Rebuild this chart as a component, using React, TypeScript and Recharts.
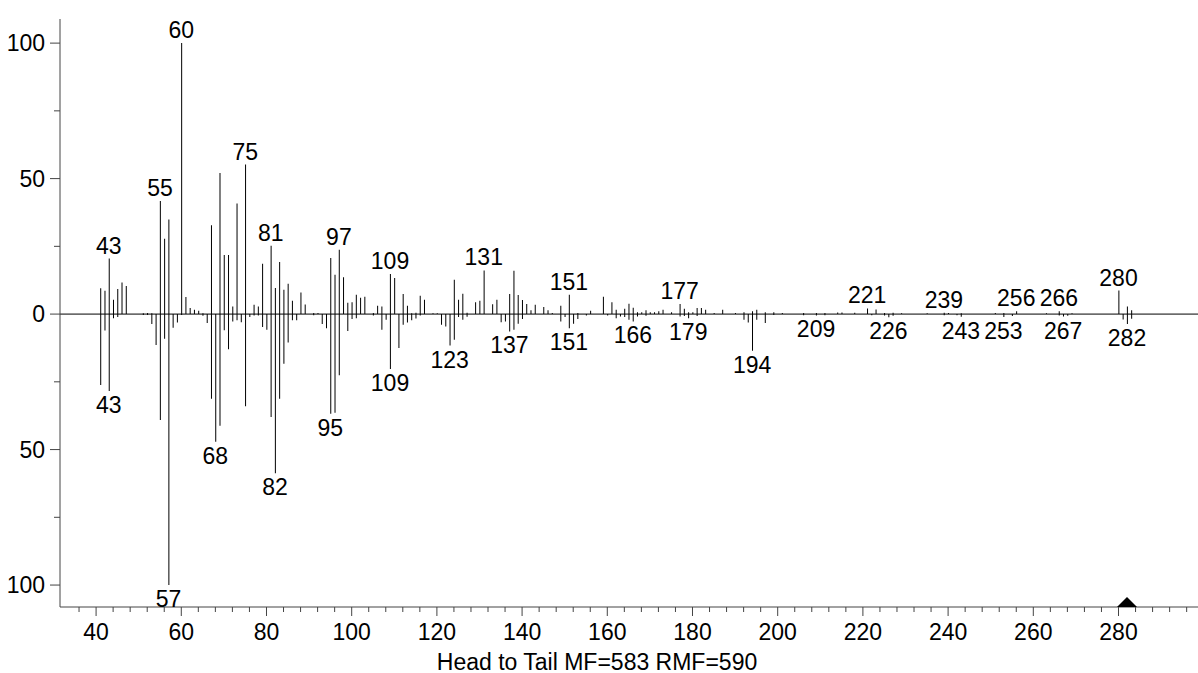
import { ComposedChart, Bar, XAxis, YAxis, ReferenceLine, ReferenceDot } from 'recharts'

// m/z, relative intensity (upper = unknown spectrum)
const headPeaks: [number, number][] = [
  [41, 9.5], [42, 8.6], [43, 20.5], [44, 5.3], [45, 9.3], [46, 11.7], [47, 10.4], [51, 0.3], [52, 0.4], [53, 0.3],
  [55, 41.7], [56, 27.8], [57, 34.9], [60, 100], [61, 6.3], [62, 2.2], [63, 1.6], [64, 1.2], [65, 0.3],
  [67, 32.8], [69, 52.1], [70, 21.8], [71, 21.8], [72, 2.8], [73, 40.8], [75, 55.2], [77, 3.4], [78, 2.8],
  [79, 18.6], [81, 25.2], [82, 9.6], [83, 19.2], [84, 9.0], [85, 11.2], [86, 4.9], [88, 8.0], [89, 3.5],
  [91, 0.4], [92, 0.4], [95, 20.7], [96, 14.5], [97, 23.7], [98, 13.6], [99, 4.2], [100, 4.4], [101, 7.1],
  [102, 6.0], [103, 6.4], [105, 0.4], [106, 3.1], [107, 2.8], [109, 14.8], [110, 13.3], [112, 7.4], [113, 3.1],
  [114, 0.3], [115, 0.5], [116, 6.8], [117, 5.3], [119, 0.3], [120, 0.3], [124, 12.7], [125, 5.3], [126, 7.5],
  [127, 0.5], [129, 4.4], [130, 4.9], [131, 16.1], [133, 3.6], [134, 5.3], [137, 7.4], [138, 16.0], [139, 7.0],
  [140, 5.2], [141, 3.7], [142, 1.4], [143, 3.4], [145, 2.6], [146, 1.4], [147, 0.4], [149, 3.1], [151, 7.1],
  [153, 0.4], [156, 1.2], [159, 6.4], [161, 4.4], [162, 1.6], [164, 2.0], [165, 3.8], [166, 2.3], [167, 0.7],
  [168, 0.7], [169, 1.4], [170, 0.7], [171, 0.7], [172, 1.0], [173, 1.6], [175, 0.7], [177, 3.7], [178, 2.0],
  [179, 0.7], [180, 0.7], [181, 2.2], [182, 2.2], [183, 1.6], [185, 0.4], [187, 1.6], [190, 0.4], [192, 0.7],
  [194, 1.0], [195, 1.6], [197, 0.7], [199, 0.7], [201, 0.4], [206, 0.4], [209, 0.4], [211, 0.4], [214, 0.6],
  [215, 0.6], [218, 0.5], [221, 2.1], [223, 1.7], [225, 0.4], [227, 0.5], [229, 0.3], [235, 0.3], [239, 0.5],
  [240, 0.4], [243, 0.3], [251, 0.4], [253, 0.4], [256, 1.0], [263, 0.3], [266, 1.0], [269, 0.3], [280, 8.7],
  [282, 2.8], [283, 1.4],
]

// m/z, relative intensity (lower = library spectrum)
const tailPeaks: [number, number][] = [
  [41, 26.2], [42, 6.1], [43, 28.4], [44, 1.5], [45, 1.1], [51, 0.3], [52, 0.3], [53, 3.7], [54, 11.4],
  [55, 39.1], [56, 9.1], [57, 100], [58, 5.0], [59, 3.1], [60, 0.3], [65, 0.6], [66, 3.3], [67, 31.2],
  [68, 47.1], [69, 41.2], [70, 6.0], [71, 13.0], [72, 2.7], [73, 2.3], [74, 3.0], [75, 34.0], [76, 1.1],
  [77, 0.5], [78, 0.5], [79, 4.8], [80, 5.8], [81, 38.0], [82, 58.7], [83, 31.2], [84, 18.3], [85, 10.5],
  [86, 2.3], [87, 2.3], [91, 0.4], [93, 3.7], [94, 5.2], [95, 36.8], [96, 36.4], [97, 22.6], [99, 6.2],
  [100, 1.8], [101, 1.5], [105, 0.5], [107, 5.8], [108, 2.1], [109, 20.3], [111, 12.5], [112, 3.9],
  [113, 3.1], [114, 2.3], [115, 1.6], [116, 0.5], [121, 3.9], [122, 4.6], [123, 11.6], [124, 9.5],
  [125, 1.1], [126, 2.1], [127, 1.0], [135, 3.0], [136, 2.7], [137, 6.4], [138, 5.8], [139, 3.6],
  [140, 1.8], [149, 2.7], [150, 1.1], [151, 5.2], [152, 3.6], [153, 1.8], [155, 0.5], [160, 0.5],
  [162, 1.5], [163, 0.9], [164, 1.1], [165, 2.1], [166, 2.7], [167, 0.9], [169, 0.6], [177, 0.9],
  [178, 0.7], [179, 1.5], [181, 0.7], [192, 2.1], [193, 3.1], [194, 13.5], [195, 2.1], [197, 3.3],
  [199, 0.3], [206, 0.4], [209, 0.5], [211, 0.4], [222, 0.4], [225, 0.5], [226, 1.2], [227, 0.6],
  [239, 0.4], [242, 0.4], [243, 1.0], [253, 1.1], [255, 0.7], [266, 0.5], [267, 0.9], [268, 0.6],
  [281, 2.0], [282, 3.7], [283, 1.7],
]

const headLabels = [43, 55, 60, 75, 81, 97, 109, 131, 151, 177, 221, 239, 256, 266, 280]
const tailLabels = [43, 57, 68, 82, 95, 109, 123, 137, 151, 166, 179, 194, 209, 226, 243, 253, 267, 282]

const xMajorTicks = [40, 60, 80, 100, 120, 140, 160, 180, 200, 220, 240, 260, 280]
const yTicks = [-100, -75, -50, -25, 0, 25, 50, 75, 100]
const markerMz = 282
const title = 'Head to Tail MF=583 RMF=590'

const FONT = "Arial, 'Liberation Sans', sans-serif"
const FS = 23

const headMap = new Map(headPeaks)
const tailMap = new Map(tailPeaks)
const allMz = Array.from(new Set([...headMap.keys(), ...tailMap.keys()])).sort((a, b) => a - b)
const rows = allMz.map(mz => ({ mz, head: headMap.get(mz) ?? 0, tail: -(tailMap.get(mz) ?? 0) }))

// minor ticks every 4 units, majors every 20
const xTicks: number[] = []
for (let t = 36; t <= 296; t += 4) xTicks.push(t)

function XTick({ x, y, payload }: any) {
  const v = payload.value
  const major = xMajorTicks.includes(v)
  return (
    <g>
      <line x1={x} x2={x} y1={y} y2={y + (major ? 9 : 5)} stroke="#444" />
      {major && (
        <text x={x} y={y + 33} textAnchor="middle" fontSize={FS} fontFamily={FONT} fill="#000">{v}</text>
      )}
    </g>
  )
}

function YTick({ x, y, payload }: any) {
  const v = payload.value
  const major = v % 50 === 0
  return (
    <g>
      <line x1={x - (major ? 10 : 6)} x2={x} y1={y} y2={y} stroke="#444" />
      {major && (
        <text x={x - 15} y={y + 8} textAnchor="end" fontSize={FS} fontFamily={FONT} fill="#000">{Math.abs(v)}</text>
      )}
    </g>
  )
}

export default function App() {
  return (
    <div style={{ position: 'absolute', left: 0, top: 0, width: 1198, height: 673, background: '#fff' }}>
      <ComposedChart
        width={1198}
        height={673}
        data={rows}
        stackOffset="sign"
        margin={{ top: 19, right: 0, bottom: 0, left: 0 }}
      >
        <XAxis
          dataKey="mz"
          type="number"
          domain={[31.53, 298.66]}
          allowDataOverflow
          ticks={xTicks}
          interval={0}
          tickLine={false}
          tickSize={0}
          tickMargin={0}
          tick={<XTick />}
          axisLine={{ stroke: '#444' }}
          height={66}
        />
        <YAxis
          type="number"
          domain={[-108.1, 108.9]}
          allowDataOverflow
          ticks={yTicks}
          interval={0}
          tickLine={false}
          tickSize={0}
          tickMargin={0}
          tick={<YTick />}
          axisLine={{ stroke: '#444' }}
          width={60}
        />
        <ReferenceLine y={0} stroke="#000" />
        <Bar dataKey="head" stackId="s" fill="#000" barSize={1} isAnimationActive={false} />
        <Bar dataKey="tail" stackId="s" fill="#000" barSize={1} isAnimationActive={false} />
        {headLabels.map(mz => (
          <ReferenceDot
            key={'h' + mz}
            x={mz}
            y={headMap.get(mz) ?? 0}
            r={0}
            shape={(p: any) => (
              <text x={p.cx} y={p.cy - 5} textAnchor="middle" fontSize={FS} fontFamily={FONT} fill="#000">{mz}</text>
            )}
          />
        ))}
        {tailLabels.map(mz => (
          <ReferenceDot
            key={'t' + mz}
            x={mz}
            y={-(tailMap.get(mz) ?? 0)}
            r={0}
            shape={(p: any) => (
              <text x={p.cx} y={p.cy + 22} textAnchor="middle" fontSize={FS} fontFamily={FONT} fill="#000">{mz}</text>
            )}
          />
        ))}
        <ReferenceDot
          x={markerMz}
          y={-108.1}
          r={0}
          ifOverflow="visible"
          shape={(p: any) => (
            <polygon points={`${p.cx - 10},${p.cy} ${p.cx + 10},${p.cy} ${p.cx},${p.cy - 10}`} fill="#000" />
          )}
        />
      </ComposedChart>
      <div
        style={{
          position: 'absolute', left: 0, top: 651, width: 1194, textAlign: 'center',
          fontFamily: FONT, fontSize: FS, lineHeight: '23px', color: '#000',
        }}
      >
        {title}
      </div>
    </div>
  )
}
